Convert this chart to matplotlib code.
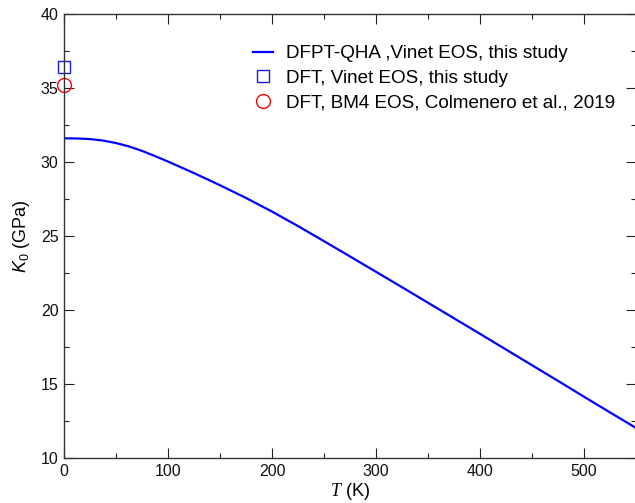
import matplotlib
matplotlib.use("Agg")
import matplotlib.pyplot as plt
from matplotlib.ticker import MultipleLocator

plt.rcParams['font.family'] = ['Liberation Sans', 'DejaVu Sans']
plt.rcParams['mathtext.fontset'] = 'custom'
plt.rcParams['mathtext.it'] = 'Liberation Sans:italic'
plt.rcParams['mathtext.rm'] = 'Liberation Sans'
plt.rcParams['mathtext.cal'] = 'Liberation Serif:italic'

# Data
T_qha = [0, 12.5, 25, 37.5, 50, 62.5, 75, 87.5, 100, 125, 150, 175, 200,
         225, 250, 275, 300, 325, 350, 375, 400, 425, 450, 475, 500, 525, 550]
K_qha = [31.60, 31.59, 31.55, 31.45, 31.28, 31.05, 30.75, 30.40, 30.03,
         29.25, 28.43, 27.57, 26.65, 25.67, 24.65, 23.62, 22.58, 21.54,
         20.49, 19.44, 18.39, 17.33, 16.27, 15.21, 14.14, 13.08, 12.03]
T_dft = [0]
K_dft_vinet = [36.4]
K_dft_bm4 = [35.2]

labels = ["DFPT-QHA ,Vinet EOS, this study",
          "DFT, Vinet EOS, this study",
          "DFT, BM4 EOS, Colmenero et al., 2019"]

fig = plt.figure(figsize=(6.35, 5.03), dpi=100)
ax = fig.add_axes([64/635, (503-458)/503, 572/635, 444/503])

ax.plot(T_qha, K_qha, color='#0000ff', lw=1.6, label=labels[0])
ax.plot(T_dft, K_dft_vinet, ls='none', marker='s', ms=9, mfc='none',
        mec='#1a1ae6', mew=1.0, label=labels[1], clip_on=False)
ax.plot(T_dft, K_dft_bm4, ls='none', marker='o', ms=10, mfc='none',
        mec='#ff0000', mew=1.0, label=labels[2], clip_on=False)

ax.set_xlim(0, 550)
ax.set_ylim(10, 40)
ax.xaxis.set_major_locator(MultipleLocator(100))
ax.xaxis.set_minor_locator(MultipleLocator(50))
ax.yaxis.set_major_locator(MultipleLocator(5))
ax.yaxis.set_minor_locator(MultipleLocator(2.5))
ax.tick_params(which='both', direction='in', top=True, right=True,
               labelsize=11.5, width=0.8, colors='#222222', labelcolor='#111111')
ax.tick_params(which='major', length=7, pad=4)
ax.tick_params(which='minor', length=3.5)
for sp in ax.spines.values():
    sp.set_linewidth(1.0)
    sp.set_color('#333333')

ax.set_xlabel(r'$\mathcal{T}$ (K)', fontsize=13, labelpad=2)
ax.set_ylabel(r'$K_0$ (GPa)', fontsize=13, labelpad=6)

ax.legend(loc='upper left', bbox_to_anchor=(0.330, 0.930), frameon=False,
          fontsize=13.6, borderaxespad=0, borderpad=0, handlelength=1.05,
          handletextpad=0.7, labelspacing=0.4, numpoints=1)

fig.savefig('out.png', dpi=100)
